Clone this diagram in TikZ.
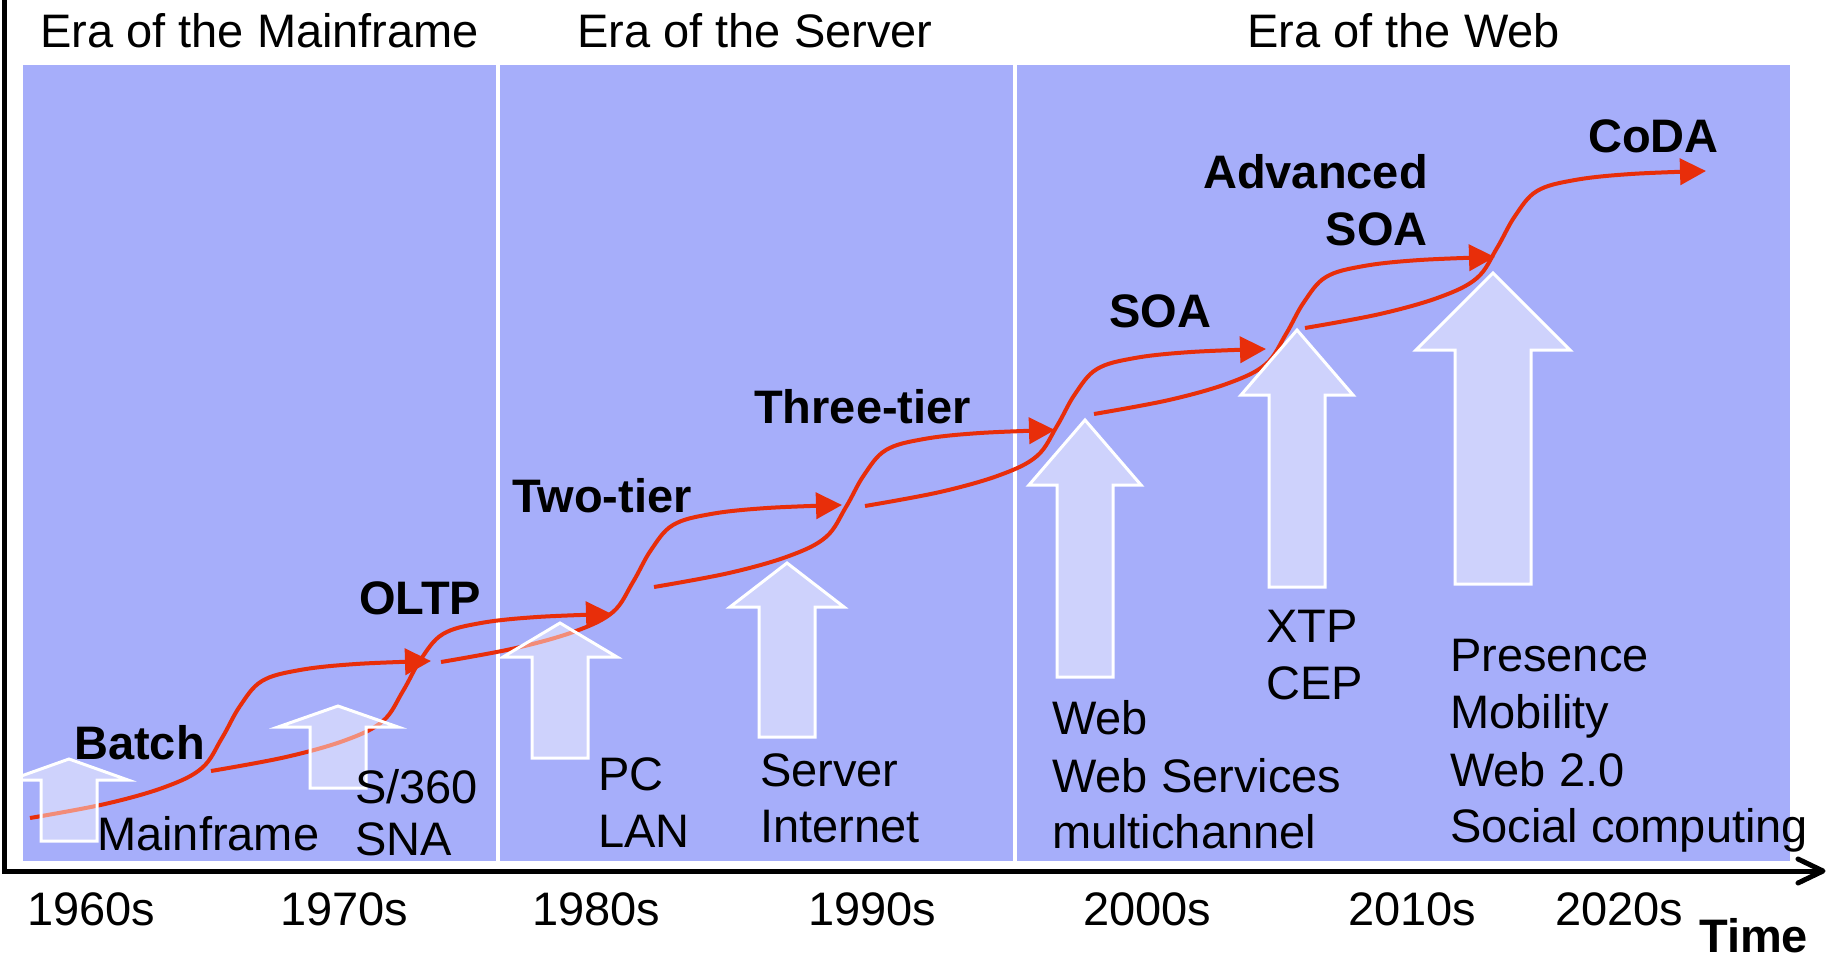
\documentclass[tikz,border=0pt]{standalone}
\usepackage{fontspec}
\setmainfont{Liberation Sans}
\usetikzlibrary{arrows.meta,calc}
\definecolor{panelblue}{RGB}{166,174,250}
\definecolor{curvered}{RGB}{232,46,10}
\newcommand\blockup[6]{%
  \draw[blockarrow] (#1,#2) -- (#1+#4,#3) -- (#1+#5,#3) -- (#1+#5,#6)
    -- (#1-#5,#6) -- (#1-#5,#3) -- (#1-#4,#3) -- cycle;}
\newcommand\evocurve[2]{%
  \draw[evo, shift={(#1,#2)}] plot[smooth, tension=0.6] coordinates
    {(0,0) (75,-14) (135,-31) (172,-50) (192,-80) (210,-112) (232,-137) (270,-148) (326,-154) (401,-157)};}
\begin{document}
\begin{tikzpicture}[x=1pt,y=-1pt,
  panel/.style={fill=panelblue},
  txt/.style={font=\fontsize{47}{57}\selectfont, inner sep=0pt, anchor=base west, text=black},
  btxt/.style={txt, font=\fontsize{47}{57}\selectfont\bfseries},
  evo/.style={draw=curvered, line width=4pt, -{Triangle[length=26pt,width=26pt]}},
  blockarrow/.style={draw=white, line width=3pt, fill=white, fill opacity=0.45, line join=miter},
  axisline/.style={line width=5pt, draw=black},
]
\useasboundingbox (0,0) rectangle (1829,958);

% era panels
\fill[panel] (23,65) rectangle (496,861);
\fill[panel] (500,65) rectangle (1013,861);
\fill[panel] (1017,65) rectangle (1790,861);

% evolution curves
\evocurve{30}{818}
\evocurve{211}{771}
\evocurve{441}{662}
\evocurve{654}{587}
\evocurve{865}{506}
\evocurve{1094}{414}
\evocurve{1305}{328}

% block up arrows
\begin{scope}
  \clip (23,65) rectangle (496,861);
  \blockup{69}{759}{780}{59}{28}{841}
\end{scope}
\blockup{338}{706}{727}{60}{28}{788}
\blockup{560}{623}{657}{57}{28}{758}
\blockup{787}{563}{607}{57}{28}{737}
\blockup{1085}{420}{485}{56}{28}{677}
\blockup{1297}{330}{395}{56}{28}{587}
\blockup{1493}{273}{350}{77}{38}{584}

% axes
\coordinate (ytop) at (4,0);
\coordinate (origin) at (4,871);
\coordinate (xend) at (1823,871);
\coordinate (xline) at (1818,871);
\draw[axisline] (ytop) -- (origin) -- (xline);
\draw[axisline, line cap=round, line join=round] ($(xend)+(-25,-12)$) -- (xend) -- ($(xend)+(-25,12)$);

% era titles
\node[txt] (era1) at (40,48) {Era of the Mainframe};
\node[txt] (era2) at (577,48) {Era of the Server};
\node[txt] (era3) at (1247,48) {Era of the Web};

% bold stage labels
\node[btxt] (batch) at (74,759) {Batch};
\node[btxt] (oltp) at (359,614) {OLTP};
\node[btxt] (twotier) at (512,512) {Two-tier};
\node[btxt] (threetier) at (754,423) {Three-tier};
\node[btxt] (soa) at (1109,327) {SOA};
\node[btxt, anchor=base east] (adv) at (1428,188) {Advanced};
\node[btxt, anchor=base east] (advsoa) at (1428,245) {SOA};
\node[btxt] (coda) at (1588,152) {CoDA};

% technology labels
\node[txt] (mainframe) at (97,850) {Mainframe};
\node[txt] (s360) at (355,803) {S/360};
\node[txt] (sna) at (355,855) {SNA};
\node[txt] (pc) at (598,790) {PC};
\node[txt] (lan) at (598,847) {LAN};
\node[txt] (server) at (760,786) {Server};
\node[txt] (internet) at (760,842) {Internet};
\node[txt] (web) at (1052,734) {Web};
\node[txt] (websvc) at (1052,792) {Web Services};
\node[txt] (multi) at (1052,848) {multichannel};
\node[txt] (xtp) at (1266,642) {XTP};
\node[txt] (cep) at (1266,699) {CEP};
\node[txt] (presence) at (1450,671) {Presence};
\node[txt] (mobility) at (1450,728) {Mobility};
\node[txt] (web20) at (1450,786) {Web 2.0};
\node[txt] (social) at (1450,842) {Social computing};

% decades
\node[txt] (d60) at (27,925) {1960s};
\node[txt] (d70) at (280,925) {1970s};
\node[txt] (d80) at (532,925) {1980s};
\node[txt] (d90) at (808,925) {1990s};
\node[txt] (d00) at (1083,925) {2000s};
\node[txt] (d10) at (1348,925) {2010s};
\node[txt] (d20) at (1555,925) {2020s};
\node[btxt] (time) at (1699,952) {Time};
\end{tikzpicture}
\end{document}
